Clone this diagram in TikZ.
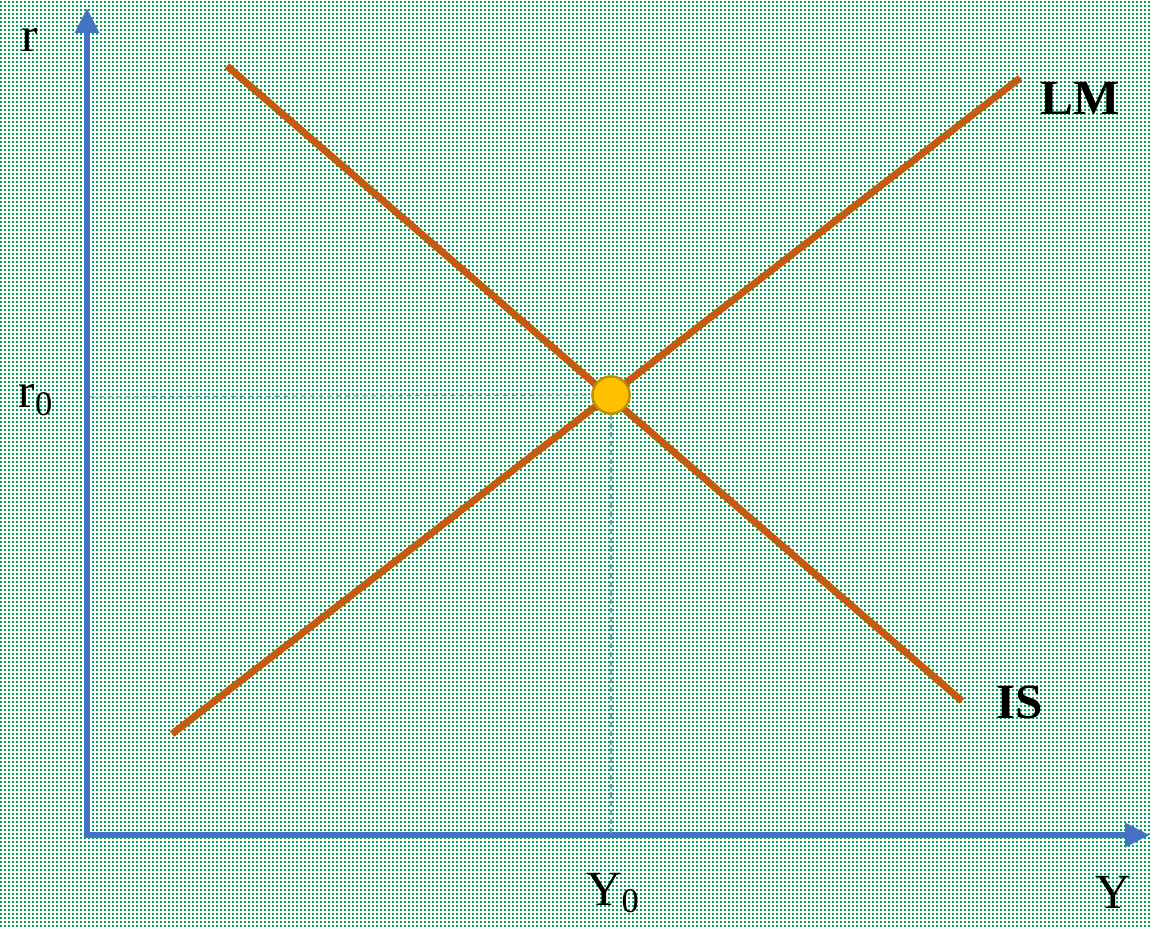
\documentclass[tikz,border=0pt]{standalone}
\usepackage{fontspec}
\setmainfont{Liberation Serif}
\usepackage{xcolor}
\usetikzlibrary{arrows.meta,patterns,positioning}

\definecolor{axisblue}{HTML}{4472C4}
\definecolor{curveorange}{HTML}{C55A11}
\definecolor{dotgreen}{HTML}{00A550}
\definecolor{eqgold}{HTML}{FFC000}
\definecolor{eqedge}{HTML}{BF9000}
\definecolor{guideblue}{HTML}{7A9CC8}

\pgfdeclarepatternformonly{greendots}{\pgfpointorigin}{\pgfpoint{2.27pt}{2.27pt}}{\pgfpoint{2.27pt}{2.27pt}}{%
  \pgfpathrectangle{\pgfpointorigin}{\pgfpoint{1.1pt}{1.1pt}}\pgfusepath{fill}}

\begin{document}
\begin{tikzpicture}[
  x=0.02cm, y=-0.02cm,
  axis/.style={axisblue,line width=3.8pt,-{Triangle[length=0.5cm,width=0.46cm]}},
  curve/.style={curveorange,line width=4pt},
  guide/.style={guideblue,line width=0.6pt,dash pattern=on 3pt off 2pt},
  lbl/.style={font=\fontsize{28}{30}\selectfont,inner sep=0pt},
  eq/.style={circle,fill=eqgold,draw=eqedge,line width=1.3pt,minimum size=0.74cm,inner sep=0pt}
]
\useasboundingbox (0,0) rectangle (1151,927);
\fill[white] (0,0) rectangle (1151,927);
\fill[pattern=greendots,pattern color=dotgreen] (0,0) rectangle (1151,927);

% axes
\coordinate (O) at (87,835);
\coordinate (ytop) at (87,8);
\coordinate (xend) at (1150,835);
\draw[axis] (87,838) -- (ytop);
\draw[axis] (84,835) -- (xend);

% curves
\coordinate (is1) at (227,66);
\coordinate (is2) at (962,701);
\coordinate (lm1) at (172,734);
\coordinate (lm2) at (1020,78);
\coordinate (r0) at (90,397);
\coordinate (y0) at (611,835);

\node[eq] (E) at (611,395) {};
\draw[guide] (r0) -- (E.west);
\draw[guide] (E.south) -- (y0);
\draw[curve] (is1) -- (is2);
\draw[curve] (lm1) -- (lm2);
\node[eq] at (E) {};

% labels
\node[lbl] (rlab) at (30,40) {r};
\node[lbl] (r0lab) at (36,400) {r\textsubscript{0}};
\node[lbl] (y0lab) at (613,893) {Y\textsubscript{0}};
\node[lbl] (ylab) at (1113,892) {Y};
\node[lbl,font=\fontsize{28}{30}\selectfont\bfseries] (lmlab) at (1080,98) {LM};
\node[lbl,font=\fontsize{28}{30}\selectfont\bfseries] (islab) at (1020,702) {IS};
\end{tikzpicture}
\end{document}
